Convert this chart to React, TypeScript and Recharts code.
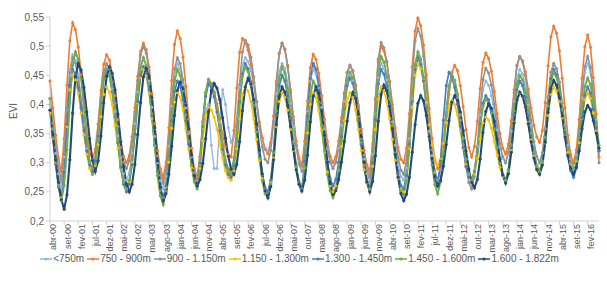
import React from 'react';
import { LineChart, Line, XAxis, YAxis, Legend } from 'recharts';

// EVI mensal por faixa de altitude, abr-00 .. jun-16
const MONTH_NAMES = ['jan', 'fev', 'mar', 'abr', 'mai', 'jun', 'jul', 'ago', 'set', 'out', 'nov', 'dez'];
const START_YEAR = 2000;
const START_MONTH = 3; // abr
const N_MONTHS = 195;

const Y_TICKS = [0.2, 0.25, 0.3, 0.35, 0.4, 0.45, 0.5, 0.55];

// one row per year, abr .. mar
const evi750 = [
  .40, .358, .316, .281, .26, .31, .391, .458, .485, .475, .449, .409,
  .365, .325, .297, .285, .303, .345, .401, .444, .46, .451, .426, .388,
  .346, .308, .281, .27, .283, .316, .367, .421, .465, .48, .469, .44,
  .395, .345, .30, .269, .255, .277, .328, .397, .451, .47, .46, .434,
  .394, .35, .31, .282, .27, .31, .36, .39, .40, .33, .29, .29,
  .37, .425, .40, .36, .335, .345, .381, .429, .467, .48, .474, .458,
  .432, .40, .368, .341, .325, .32, .335, .371, .419, .457, .47, .461,
  .438, .402, .362, .326, .301, .29, .327, .389, .44, .46, .452, .429,
  .395, .358, .324, .30, .29, .30, .325, .364, .405, .439, .45, .441,
  .418, .382, .342, .306, .281, .27, .314, .386, .446, .47, .462, .442,
  .41, .37, .33, .296, .276, .27, .291, .341, .409, .461, .48, .47,
  .442, .40, .354, .312, .283, .27, .288, .331, .389, .434, .45, .441,
  .418, .382, .342, .306, .281, .27, .287, .328, .382, .425, .44, .433,
  .415, .387, .356, .328, .308, .30, .316, .354, .406, .446, .46, .452,
  .431, .399, .364, .332, .31, .30, .317, .358, .412, .455, .47, .461,
  .439, .404, .365, .33, .306, .295, .313, .355, .411, .454, .47, .455,
  .418, .373, .32,
];

const evi900 = [
  .44, .394, .347, .308, .285, .341, .433, .509, .54, .528, .498, .451,
  .399, .352, .319, .305, .323, .366, .424, .469, .485, .476, .452, .415,
  .374, .337, .311, .30, .312, .345, .394, .448, .491, .505, .494, .464,
  .418, .367, .321, .289, .275, .30, .36, .441, .503, .526, .513, .481,
  .431, .375, .325, .29, .275, .311, .371, .42, .44, .435, .422, .401,
  .375, .349, .327, .314, .31, .355, .428, .489, .513, .507, .493, .469,
  .438, .404, .37, .343, .323, .315, .334, .38, .44, .488, .505, .495,
  .467, .425, .379, .337, .308, .295, .337, .406, .463, .486, .477, .453,
  .415, .374, .337, .311, .30, .31, .337, .377, .42, .455, .467, .458,
  .434, .398, .358, .321, .296, .285, .332, .41, .474, .50, .492, .472,
  .44, .40, .36, .326, .306, .30, .325, .384, .464, .526, .548, .535,
  .502, .45, .393, .342, .305, .29, .301, .329, .371, .417, .455, .467,
  .458, .432, .396, .357, .326, .31, .328, .371, .427, .472, .488, .479,
  .457, .422, .384, .35, .325, .315, .332, .372, .425, .467, .482, .475,
  .456, .426, .394, .364, .344, .335, .355, .403, .466, .516, .534, .522,
  .492, .445, .394, .347, .314, .30, .322, .374, .445, .499, .519, .498,
  .446, .383, .31,
];

const evi1150 = [
  .41, .368, .326, .291, .27, .316, .392, .455, .48, .471, .446, .408,
  .366, .328, .301, .29, .308, .351, .409, .454, .47, .461, .438, .402,
  .362, .326, .301, .29, .303, .336, .387, .441, .485, .50, .488, .458,
  .411, .359, .312, .279, .265, .287, .338, .407, .461, .48, .47, .442,
  .40, .354, .312, .283, .27, .307, .369, .42, .44, .434, .418, .394,
  .363, .332, .305, .29, .285, .308, .362, .434, .49, .51, .502, .481,
  .447, .405, .363, .327, .306, .30, .321, .37, .435, .487, .505, .494,
  .465, .421, .373, .329, .298, .285, .326, .392, .448, .47, .461, .438,
  .402, .362, .326, .301, .29, .301, .329, .371, .417, .455, .467, .457,
  .432, .394, .352, .313, .287, .275, .326, .409, .478, .506, .497, .474,
  .438, .393, .348, .309, .287, .28, .305, .365, .445, .508, .53, .517,
  .483, .431, .374, .322, .286, .27, .288, .33, .386, .429, .445, .436,
  .411, .373, .331, .293, .266, .255, .276, .325, .392, .443, .462, .454,
  .433, .40, .365, .332, .31, .30, .318, .362, .42, .466, .482, .473,
  .449, .413, .373, .336, .311, .30, .317, .358, .412, .455, .47, .461,
  .438, .402, .362, .326, .301, .29, .309, .355, .417, .465, .482, .464,
  .418, .364, .30,
];

const evi1300 = [
  .385, .342, .298, .262, .24, .286, .362, .425, .45, .442, .419, .385,
  .348, .314, .29, .28, .295, .331, .379, .417, .43, .421, .399, .364,
  .325, .29, .266, .255, .267, .30, .349, .403, .446, .46, .449, .42,
  .376, .328, .284, .253, .24, .258, .301, .359, .404, .42, .412, .391,
  .359, .324, .292, .27, .26, .29, .338, .379, .395, .39, .378, .358,
  .333, .308, .286, .274, .27, .286, .324, .376, .416, .43, .423, .405,
  .376, .34, .304, .273, .255, .25, .267, .308, .362, .405, .42, .412,
  .39, .357, .321, .288, .265, .255, .291, .351, .40, .42, .412, .389,
  .355, .318, .284, .26, .25, .26, .287, .328, .372, .408, .42, .412,
  .39, .357, .321, .288, .265, .255, .294, .357, .409, .43, .423, .405,
  .376, .34, .304, .273, .255, .25, .272, .325, .395, .45, .47, .461,
  .439, .404, .365, .33, .306, .295, .306, .333, .369, .397, .407, .40,
  .382, .355, .325, .297, .278, .27, .281, .307, .341, .368, .378, .373,
  .359, .337, .313, .292, .276, .27, .285, .321, .369, .407, .42, .413,
  .396, .369, .339, .312, .293, .285, .30, .334, .381, .417, .43, .423,
  .405, .377, .346, .318, .298, .29, .303, .334, .376, .408, .42, .41,
  .385, .355, .32,
];

const evi1450 = [
  .39, .344, .297, .258, .235, .285, .366, .433, .46, .451, .429, .394,
  .355, .32, .296, .285, .303, .345, .401, .444, .46, .45, .422, .38,
  .334, .292, .263, .25, .263, .297, .349, .405, .45, .465, .454, .425,
  .38, .33, .285, .254, .24, .26, .308, .372, .422, .44, .431, .408,
  .372, .332, .296, .271, .26, .299, .362, .414, .435, .429, .413, .387,
  .355, .323, .296, .28, .275, .295, .341, .404, .452, .47, .461, .439,
  .404, .36, .316, .279, .257, .25, .27, .318, .382, .432, .45, .44,
  .415, .376, .333, .294, .267, .255, .302, .38, .444, .47, .46, .432,
  .39, .344, .302, .273, .26, .271, .301, .345, .393, .432, .445, .436,
  .411, .373, .331, .293, .266, .255, .30, .374, .435, .46, .452, .431,
  .399, .358, .317, .282, .261, .255, .278, .332, .404, .46, .48, .469,
  .44, .396, .348, .304, .273, .26, .303, .373, .432, .455, .448, .429,
  .40, .363, .326, .294, .276, .27, .285, .319, .366, .402, .415, .408,
  .389, .36, .328, .299, .279, .27, .287, .328, .382, .425, .44, .432,
  .412, .381, .347, .316, .294, .285, .303, .345, .401, .444, .46, .451,
  .427, .39, .349, .312, .286, .275, .291, .328, .377, .416, .43, .419,
  .392, .359, .32,
];

const evi1600 = [
  .41, .358, .305, .261, .235, .261, .322, .403, .467, .49, .477, .444,
  .396, .343, .301, .28, .298, .341, .399, .444, .46, .45, .423, .382,
  .337, .296, .267, .255, .269, .305, .359, .417, .464, .48, .467, .435,
  .384, .329, .278, .243, .228, .251, .307, .381, .439, .46, .45, .423,
  .382, .337, .296, .267, .255, .296, .364, .42, .443, .436, .42, .394,
  .362, .329, .301, .285, .28, .299, .343, .402, .448, .465, .456, .434,
  .398, .353, .308, .269, .247, .24, .263, .317, .389, .445, .465, .454,
  .426, .383, .336, .293, .263, .25, .292, .36, .417, .44, .43, .404,
  .364, .32, .28, .252, .24, .253, .287, .339, .395, .44, .455, .445,
  .419, .379, .335, .295, .267, .255, .305, .387, .455, .482, .473, .449,
  .411, .364, .316, .276, .252, .245, .27, .328, .407, .468, .49, .478,
  .446, .398, .344, .296, .262, .247, .267, .316, .381, .432, .45, .441,
  .418, .382, .342, .306, .281, .27, .284, .318, .362, .397, .41, .403,
  .385, .357, .326, .298, .278, .27, .288, .331, .389, .434, .45, .442,
  .42, .387, .351, .318, .295, .285, .302, .343, .397, .44, .455, .447,
  .425, .392, .356, .323, .30, .29, .306, .343, .392, .431, .445, .434,
  .405, .37, .33,
];

const evi1822 = [
  .39, .348, .305, .266, .237, .22, .245, .305, .385, .448, .47, .459,
  .429, .387, .341, .304, .285, .303, .346, .403, .448, .464, .453, .425,
  .383, .336, .293, .263, .25, .263, .297, .348, .403, .447, .462, .448,
  .412, .36, .303, .258, .235, .247, .28, .328, .381, .424, .438, .427,
  .399, .358, .313, .278, .26, .271, .299, .341, .387, .424, .436, .428,
  .408, .377, .342, .311, .289, .28, .297, .336, .389, .43, .445, .435,
  .408, .367, .322, .281, .252, .24, .259, .305, .365, .413, .43, .421,
  .398, .362, .323, .288, .263, .252, .27, .313, .37, .414, .43, .419,
  .389, .347, .301, .264, .245, .252, .271, .301, .336, .371, .403, .42,
  .41, .383, .344, .301, .267, .25, .268, .312, .371, .417, .433, .423,
  .397, .358, .314, .275, .247, .235, .246, .275, .318, .365, .402, .415,
  .406, .381, .345, .307, .276, .26, .269, .294, .331, .372, .404, .415,
  .407, .387, .355, .32, .289, .266, .257, .271, .306, .352, .388, .401,
  .393, .371, .34, .306, .279, .265, .281, .318, .368, .407, .421, .414,
  .396, .367, .336, .308, .288, .28, .296, .335, .386, .427, .441, .433,
  .412, .38, .344, .312, .29, .28, .292, .32, .358, .387, .398, .391,
  .372, .351, .325,
];

const SERIES = [
  { key: 'a', name: '<750m', color: '#8db7e0', width: 1.3, values: evi750 },
  { key: 'b', name: '750 - 900m', color: '#ed7d31', width: 1.6, values: evi900 },
  { key: 'c', name: '900 - 1.150m', color: '#929292', width: 1.6, values: evi1150 },
  { key: 'd', name: '1.150 - 1.300m', color: '#ffc000', width: 1.6, values: evi1300 },
  { key: 'e', name: '1.300 - 1.450m', color: '#4a7ebf', width: 1.7, values: evi1450 },
  { key: 'f', name: '1.450 - 1.600m', color: '#70ad47', width: 1.9, values: evi1600 },
  { key: 'g', name: '1.600 - 1.822m', color: '#22497a', width: 2.1, values: evi1822 },
];

const monthLabel = (i: number) => {
  const t = START_MONTH + i;
  const yy = String((START_YEAR + Math.floor(t / 12)) % 100).padStart(2, '0');
  return `${MONTH_NAMES[t % 12]}-${yy}`;
};

const data = Array.from({ length: N_MONTHS }, (_, i) => {
  const row: Record<string, string | number> = { month: monthLabel(i) };
  SERIES.forEach(s => { row[s.key] = s.values[i]; });
  return row;
});

const FONT = '"Liberation Sans", Arial, sans-serif';
const TEXT = '#595959';

const LegendContent = () => (
  <div style={{ display: 'flex', justifyContent: 'center', gap: 3, fontFamily: FONT, fontSize: 10, color: TEXT }}>
    {SERIES.map(s => (
      <div key={s.key} style={{ display: 'flex', alignItems: 'center', gap: 1 }}>
        <svg width={12} height={8}>
          <line x1={0} y1={4} x2={12} y2={4} stroke={s.color} strokeWidth={1.5} />
          <circle cx={6} cy={4} r={1.6} fill={s.color} />
        </svg>
        <span>{s.name}</span>
      </div>
    ))}
  </div>
);

export default function App() {
  return (
    <div style={{ position: 'absolute', left: 0, top: 0, width: 607, height: 282, background: '#fff' }}>
      <LineChart width={607} height={282} data={data} margin={{ top: 17, right: 8, left: 0, bottom: 18 }}>
        <XAxis
          dataKey="month"
          interval={4}
          angle={-90}
          textAnchor="end"
          height={32}
          tickSize={4}
          tick={{ fontSize: 9, fill: TEXT, fontFamily: FONT, dy: -3 }}
          stroke="#d0d0d0"
        />
        <YAxis
          width={50}
          domain={[0.2, 0.55]}
          ticks={Y_TICKS}
          tickFormatter={(v: number) => String(v).replace('.', ',')}
          tickSize={4}
          tick={{ fontSize: 10, fill: TEXT, fontFamily: FONT }}
          stroke="#d0d0d0"
          label={{ value: 'EVI', angle: -90, position: 'insideLeft', offset: 13, style: { fontSize: 10, fill: TEXT, fontFamily: FONT } }}
        />
        <Legend verticalAlign="bottom" content={<LegendContent />} />
        {SERIES.map(s => (
          <Line
            key={s.key}
            type="linear"
            dataKey={s.key}
            name={s.name}
            stroke={s.color}
            strokeWidth={s.width}
            dot={{ r: 1.3, fill: s.color, stroke: s.color, strokeWidth: 0.5 }}
            isAnimationActive={false}
          />
        ))}
      </LineChart>
    </div>
  );
}
